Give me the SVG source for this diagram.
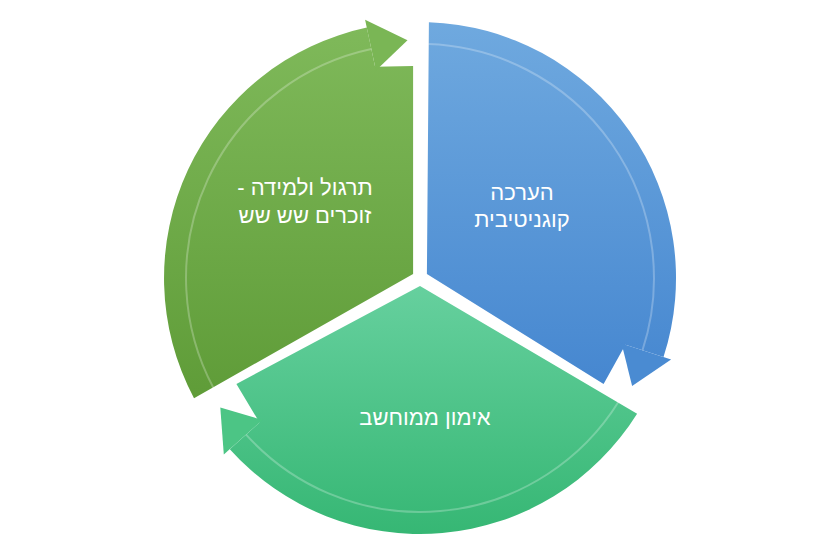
<svg xmlns="http://www.w3.org/2000/svg" width="839" height="560" viewBox="0 0 839 560">
<defs>
<linearGradient id="gb" x1="0" y1="0" x2="0" y2="1"><stop offset="0" stop-color="#6fa9df"/><stop offset="1" stop-color="#4687d0"/></linearGradient>
<linearGradient id="gg" x1="0" y1="0" x2="0" y2="1"><stop offset="0" stop-color="#7fb95a"/><stop offset="1" stop-color="#5f9c38"/></linearGradient>
<linearGradient id="gm" x1="0" y1="0" x2="0" y2="1"><stop offset="0" stop-color="#66d09e"/><stop offset="1" stop-color="#36b774"/></linearGradient>
</defs>
<style>
.band{fill:none;stroke:#ffffff;stroke-opacity:0.25;stroke-width:2}
.t{font-family:"Liberation Sans",Arial,sans-serif;font-size:22px;fill:#fff;text-anchor:middle}
</style>
<rect width="839" height="560" fill="#fff"/>
<g id="blue">
<path d="M426.9,274 L428.9,22.2 A256,256 0 0 1 663.5,357.1 L625.4,344.7 L603.6,384 Z" fill="url(#gb)"/>
<path d="M671.1,359.6 L632.1,386.1 L621.6,343.5 Z" fill="#4a8bd2"/>
<path class="band" d="M428.2,44.1 A234,234 0 0 1 642.5,350.3"/>
<text class="t" direction="rtl" x="522" y="200">הערכה</text>
<text class="t" direction="rtl" x="522" y="227">קוגניטיבית</text>
</g>
<g id="bottom">
<path d="M420,286 L637.1,413.7 A256,256 0 0 1 229.8,449.3 L259.5,422.5 L236.4,384 Z" fill="url(#gm)"/>
<path d="M223.8,454.6 L220.3,407.6 L262.5,419.9 Z" fill="#4cc585"/>
<path class="band" d="M618.4,402 A234,234 0 0 1 246.1,434.6"/>
<text class="t" direction="rtl" x="425" y="425">אימון ממוחשב</text>
</g>
<g id="green">
<path d="M413.1,274 L194,398.2 A256,256 0 0 1 366.8,27.6 L375.1,66.7 L413.1,66 Z" fill="url(#gg)"/>
<path d="M365.1,19.8 L407.5,40.3 L375.9,70.6 Z" fill="#7ab655"/>
<path class="band" d="M213.4,387.8 A234,234 0 0 1 371.3,49.1"/>
<text class="t" direction="rtl" x="305" y="195">תרגול ולמידה -</text>
<text class="t" direction="rtl" x="305" y="223">זוכרים שש שש</text>
</g>
<g id="connectors"/>
</svg>
